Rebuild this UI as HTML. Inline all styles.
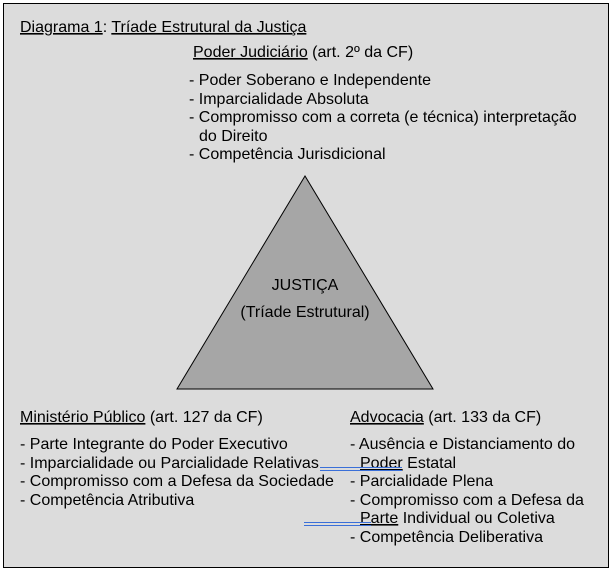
<!DOCTYPE html>
<html><head><meta charset="utf-8"><style>
html,body{margin:0;padding:0;background:#fff;}
svg{display:block;}
text{font-family:"Liberation Sans",Arial,sans-serif;font-size:16px;fill:#000;}
</style></head><body>
<svg width="613" height="573" viewBox="0 0 613 573">
<rect x="3.5" y="3.5" width="605" height="564" fill="#dcdcdc" stroke="#000" stroke-width="1"/>
<polygon points="305,176 177,389 433,389" fill="#a6a6a6" stroke="#000" stroke-width="1"/>
<text x="20" y="32"><tspan text-decoration="underline">Diagrama 1</tspan>: <tspan text-decoration="underline">Tríade Estrutural da Justiça</tspan></text>
<text x="193" y="57"><tspan text-decoration="underline">Poder Judiciário</tspan> (art. 2º da CF)</text>
<text x="189" y="85">- Poder Soberano e Independente</text>
<text x="189" y="104">- Imparcialidade Absoluta</text>
<text x="189" y="122">- Compromisso com a correta (e técnica) interpretação</text>
<text x="199" y="141">do Direito</text>
<text x="189" y="159">- Competência Jurisdicional</text>
<text x="305" y="290" text-anchor="middle">JUSTIÇA</text>
<text x="305" y="317" text-anchor="middle">(Tríade Estrutural)</text>
<text x="20" y="422"><tspan text-decoration="underline">Ministério Público</tspan> (art. 127 da CF)</text>
<text x="20" y="449">- Parte Integrante do Poder Executivo</text>
<text x="20" y="468">- Imparcialidade ou Parcialidade Relativas</text>
<text x="20" y="486">- Compromisso com a Defesa da Sociedade</text>
<text x="20" y="505">- Competência Atributiva</text>
<text x="350" y="422"><tspan text-decoration="underline">Advocacia</tspan> (art. 133 da CF)</text>
<text x="350" y="449">- Ausência e Distanciamento do</text>
<text x="360" y="468"><tspan text-decoration="underline">Poder</tspan> Estatal</text>
<text x="350" y="486">- Parcialidade Plena</text>
<text x="350" y="505">- Compromisso com a Defesa da</text>
<text x="360" y="523"><tspan text-decoration="underline">Parte</tspan> Individual ou Coletiva</text>
<text x="350" y="542">- Competência Deliberativa</text>
<line x1="320" y1="467.5" x2="402" y2="467.5" stroke="#3a6fd8" stroke-width="1"/>
<line x1="320" y1="470.5" x2="402" y2="470.5" stroke="#3a6fd8" stroke-width="1"/>
<line x1="304" y1="522.5" x2="371" y2="522.5" stroke="#3a6fd8" stroke-width="1"/>
<line x1="304" y1="525.5" x2="371" y2="525.5" stroke="#3a6fd8" stroke-width="1"/>
</svg>
</body></html>
